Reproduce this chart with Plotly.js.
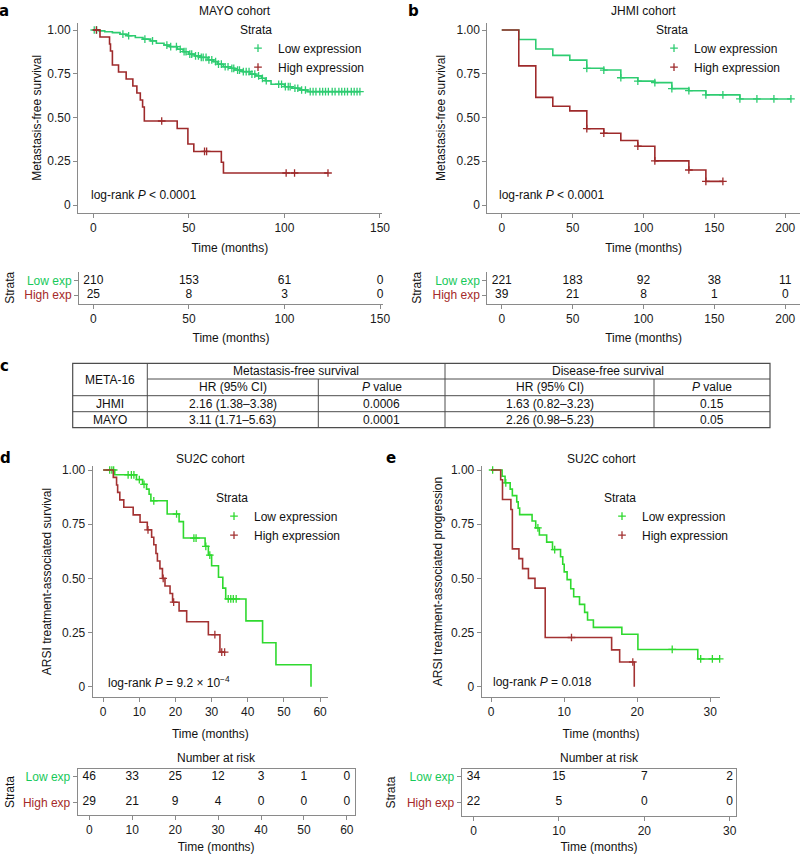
<!DOCTYPE html>
<html>
<head>
<meta charset="utf-8">
<script src="https://cdn.plot.ly/plotly-3.0.1.min.js"></script>
<style>html,body{margin:0;padding:0;background:#fff;}#chart{width:800px;height:854px;}</style>
</head>
<body>
<div id="chart"></div>
<script>
// ===================== DATA =====================
const survTickVals = [0, 0.25, 0.5, 0.75, 1];
const survTickText = ['0', '0.25', '0.50', '0.75', '1.00'];
const groupNames = ['Low expression', 'High expression'];
const riskRowNames = ['Low exp', 'High exp'];

// a: MAYO cohort (metastasis-free survival)
const mayoLowTimes = [0, 3, 6, 10, 14, 18, 22, 26, 30, 33, 37, 40, 44, 47, 50, 53, 56, 60, 63, 65, 68, 72, 74, 78, 82, 85, 88, 90, 93, 100, 104, 108, 112];
const mayoLowSurv  = [1, 0.995, 0.99, 0.985, 0.976, 0.967, 0.957, 0.948, 0.938, 0.924, 0.914, 0.905, 0.89, 0.876, 0.862, 0.852, 0.843, 0.829, 0.819, 0.805, 0.79, 0.781, 0.771, 0.762, 0.748, 0.738, 0.724, 0.71, 0.69, 0.676, 0.667, 0.657, 0.648];
const mayoLowCensor = [0.5, 1.8, 15.5, 18.5, 27, 31, 38.5, 40.5, 43.5, 45.5, 47.5, 48.5, 50.5, 51.5, 53.5, 55, 56.5, 57.5, 59, 60.5, 62, 64, 65.5, 67, 69, 70.5, 72.5, 73.5, 75.5, 76.5, 78.5, 80, 81.5, 83, 84.5, 86.5, 88.5, 90.5, 97, 98.5, 100.5, 102, 103, 105.5, 107, 109, 111, 113.5, 115, 116.5, 118.5, 120, 121.5, 123, 125, 126.5, 128.5, 130, 131.5, 133, 135, 136.5, 138, 139.5];
const mayoHighTimes = [0, 3.5, 8.5, 9, 10, 13.2, 17.2, 20.7, 22.8, 24.6, 25.8, 26.7, 43.9, 49.5, 52.6, 67, 68.1];
const mayoHighSurv  = [1, 0.96, 0.92, 0.88, 0.80, 0.76, 0.72, 0.68, 0.64, 0.60, 0.56, 0.48, 0.437, 0.349, 0.306, 0.244, 0.183];
const mayoHighCensor = [1.6, 35.8, 58.2, 59.3, 100.9, 105.3, 122.8];

// b: JHMI cohort (metastasis-free survival)
const jhmiLowTimes = [0, 12, 24, 36, 48, 60, 72, 84, 96, 108, 120, 132, 144, 168];
const jhmiLowSurv  = [1, 0.946, 0.891, 0.855, 0.828, 0.781, 0.771, 0.727, 0.708, 0.699, 0.665, 0.653, 0.629, 0.606];
const jhmiLowCensor = [60, 72, 84, 96, 108, 120, 132, 144, 156, 168, 180, 192, 204];
const jhmiHighTimes = [0, 12, 24, 36, 48, 60, 72, 84, 96, 108, 132, 144];
const jhmiHighSurv  = [1, 0.795, 0.615, 0.564, 0.538, 0.436, 0.41, 0.369, 0.336, 0.252, 0.2, 0.135];
const jhmiHighCensor = [60, 72, 96, 108, 132, 144, 156];

// d: SU2C cohort (ARSI treatment-associated survival)
const su2cSurvLowTimes = [0, 3.2, 9.2, 10.9, 12.0, 12.7, 13.2, 17.7, 21.0, 22.2, 28.2, 29.1, 30.0, 31.9, 33.1, 33.9, 39.5, 44.1, 47.8, 57.5];
const su2cSurvLowSurv  = [1, 0.978, 0.956, 0.934, 0.912, 0.888, 0.858, 0.797, 0.762, 0.686, 0.648, 0.607, 0.558, 0.505, 0.455, 0.405, 0.304, 0.203, 0.101, 0];
const su2cSurvLowCensor = [1.8, 2.4, 2.9, 6.9, 7.8, 8.5, 10.0, 11.3, 14.0, 20.3, 25.1, 25.7, 28.4, 29.5, 34.6, 35.3, 36.0, 36.8];
const su2cSurvHighTimes = [0, 2.8, 3.7, 4.0, 4.6, 5.7, 8.3, 10.2, 12.2, 13.4, 14.0, 14.6, 15.0, 15.7, 16.4, 17.1, 18.5, 19.2, 21.0, 23.1, 29.1, 32.3];
const su2cSurvHighSurv  = [1, 0.966, 0.931, 0.897, 0.862, 0.828, 0.793, 0.759, 0.724, 0.69, 0.655, 0.615, 0.58, 0.545, 0.5, 0.465, 0.43, 0.39, 0.35, 0.30, 0.24, 0.16];
const su2cSurvHighCensor = [12.4, 16.6, 19.5, 30.9, 32.8, 33.6];

// e: SU2C cohort (ARSI treatment-associated progression)
const su2cProgLowTimes = [0, 1.5, 1.9, 2.6, 2.9, 3.5, 3.7, 3.9, 5.6, 6.1, 6.6, 7.6, 8.4, 9.5, 9.8, 10.0, 10.4, 10.9, 11.3, 12.1, 12.8, 13.2, 14.0, 17.9, 20.1, 28.3];
const su2cProgLowSurv  = [1, 0.971, 0.941, 0.912, 0.882, 0.853, 0.824, 0.794, 0.765, 0.733, 0.7, 0.667, 0.633, 0.6, 0.565, 0.53, 0.494, 0.452, 0.415, 0.38, 0.343, 0.308, 0.274, 0.242, 0.172, 0.128];
const su2cProgLowCensor = [0.2, 2.0, 6.4, 8.7, 24.8, 28.7, 30.3, 31.3];
const su2cProgHighTimes = [0, 1.3, 1.55, 2.7, 2.9, 3.8, 4.3, 5.1, 6.0, 7.4, 16.5, 17.6, 19.6];
const su2cProgHighSurv  = [1, 0.955, 0.864, 0.818, 0.636, 0.591, 0.545, 0.5, 0.455, 0.227, 0.17, 0.114, 0];
const su2cProgHighCensor = [11.0, 19.4];

// Numbers at risk
const riskTimesA = [0, 50, 100, 150];
const riskLowA = [210, 153, 61, 0];
const riskHighA = [25, 8, 3, 0];
const riskTimesB = [0, 50, 100, 150, 200];
const riskLowB = [221, 183, 92, 38, 11];
const riskHighB = [39, 21, 8, 1, 0];
const riskTimesD = [0, 10, 20, 30, 40, 50, 60];
const riskLowD = [46, 33, 25, 12, 3, 1, 0];
const riskHighD = [29, 21, 9, 4, 0, 0, 0];
const riskTimesE = [0, 10, 20, 30];
const riskLowE = [34, 15, 7, 2];
const riskHighE = [22, 5, 0, 0];

// c: META-16 hazard ratio table
const tableCohorts = ['JHMI', 'MAYO'];
const mfsHR = ['2.16 (1.38–3.38)', '3.11 (1.71–5.63)'];
const mfsP = ['0.0006', '0.0001'];
const dfsHR = ['1.63 (0.82–3.23)', '2.26 (0.98–5.23)'];
const dfsP = ['0.15', '0.05'];

// ===================== STYLE / HELPERS =====================
const FONT = 'Liberation Sans, Arial, Helvetica, sans-serif';
const GREEN_AB = '#2ecc71', RED_AB = '#9e2a2b';
const GREEN_DE = '#2fd92f', RED_DE = '#a33232';
const LBL_GREEN = '#17c95a', LBL_RED = '#a52a2a';
const AXC = '#8a8a8a';
const W = 800, H = 854;
const px = v => v / W;
const py = v => 1 - v / H;

function survAt(times, surv, t) {
  let v = surv[0];
  for (let i = 0; i < times.length; i++) if (times[i] <= t) v = surv[i];
  return v;
}

function kmTraces(times, surv, censor, color, name, xa, ya, legend) {
  const end = Math.max(times[times.length - 1], ...censor);
  const line = {
    type: 'scatter', mode: 'lines', x: times.concat([end]), y: surv.concat([surv[surv.length - 1]]),
    line: {shape: 'hv', color: color, width: 1.6}, xaxis: xa, yaxis: ya, showlegend: false, hoverinfo: 'skip'
  };
  const marks = {
    type: 'scatter', mode: 'markers', x: censor, y: censor.map(t => survAt(times, surv, t)),
    marker: {symbol: 'cross-thin', size: 5.5, color: color, line: {color: color, width: 1.3}},
    xaxis: xa, yaxis: ya, name: name, legend: legend, cliponaxis: false, hoverinfo: 'x+y'
  };
  return [line, marks];
}

function riskTraces(times, low, high, xa, ya) {
  const mk = (vals, row) => ({
    type: 'scatter', mode: 'text', x: times, y: times.map(() => row), text: vals.map(String),
    textposition: 'middle center', textfont: {family: FONT, size: 12, color: '#111'},
    xaxis: xa, yaxis: ya, showlegend: false, cliponaxis: false, hoverinfo: 'skip'
  });
  return [mk(low, 2), mk(high, 1)];
}

function axBase(extra) {
  return Object.assign({
    showgrid: false, zeroline: false, showline: true, linecolor: AXC, linewidth: 1,
    ticks: 'outside', ticklen: 4, tickcolor: AXC, tickwidth: 1,
    tickfont: {family: FONT, size: 12, color: '#1a1a1a'}, fixedrange: true, automargin: false
  }, extra);
}
function axTitle(text, standoff) {
  return {text: text, font: {family: FONT, size: 12, color: '#111'}, standoff: standoff};
}
const riskTickText = [
  '<span style="color:' + LBL_RED + '">' + riskRowNames[1] + '</span>',
  '<span style="color:' + LBL_GREEN + '">' + riskRowNames[0] + '</span>'
];

function ann(text, x, y, o) {
  o = o || {};
  return {
    text: text, x: px(x), y: py(y), xref: 'paper', yref: 'paper', showarrow: false,
    xanchor: o.xanchor || 'center', yanchor: o.yanchor || 'middle',
    font: {family: o.family || FONT, size: o.size || 12, color: o.color || '#111', weight: o.weight || 'normal'}
  };
}
function legendCfg(x, y) {
  return {
    x: px(x), y: py(y), xanchor: 'left', yanchor: 'top', bgcolor: 'rgba(0,0,0,0)', borderwidth: 0,
    font: {family: FONT, size: 12, color: '#111'}, title: {text: 'Strata', font: {family: FONT, size: 12, color: '#111'}},
    tracegroupgap: 0, itemclick: false, itemdoubleclick: false
  };
}

// ===================== TRACES =====================
const data = [].concat(
  kmTraces(mayoLowTimes, mayoLowSurv, mayoLowCensor, GREEN_AB, groupNames[0], 'x', 'y', 'legend'),
  kmTraces(mayoHighTimes, mayoHighSurv, mayoHighCensor, RED_AB, groupNames[1], 'x', 'y', 'legend'),
  kmTraces(jhmiLowTimes, jhmiLowSurv, jhmiLowCensor, GREEN_AB, groupNames[0], 'x2', 'y2', 'legend2'),
  kmTraces(jhmiHighTimes, jhmiHighSurv, jhmiHighCensor, RED_AB, groupNames[1], 'x2', 'y2', 'legend2'),
  riskTraces(riskTimesA, riskLowA, riskHighA, 'x3', 'y3'),
  riskTraces(riskTimesB, riskLowB, riskHighB, 'x4', 'y4'),
  kmTraces(su2cSurvLowTimes, su2cSurvLowSurv, su2cSurvLowCensor, GREEN_DE, groupNames[0], 'x5', 'y5', 'legend3'),
  kmTraces(su2cSurvHighTimes, su2cSurvHighSurv, su2cSurvHighCensor, RED_DE, groupNames[1], 'x5', 'y5', 'legend3'),
  kmTraces(su2cProgLowTimes, su2cProgLowSurv, su2cProgLowCensor, GREEN_DE, groupNames[0], 'x6', 'y6', 'legend4'),
  kmTraces(su2cProgHighTimes, su2cProgHighSurv, su2cProgHighCensor, RED_DE, groupNames[1], 'x6', 'y6', 'legend4'),
  riskTraces(riskTimesD, riskLowD, riskHighD, 'x7', 'y7'),
  riskTraces(riskTimesE, riskLowE, riskHighE, 'x8', 'y8')
);

// ===================== LAYOUT =====================
const survY = (top, bot, yTop, title, so, anchor) => axBase({
  domain: [py(bot), py(top)], range: yTop, tickvals: survTickVals, ticktext: survTickText,
  title: axTitle(title, so), anchor: anchor
});

const layout = {
  width: W, height: H, autosize: false, margin: {l: 0, r: 0, t: 0, b: 0},
  paper_bgcolor: '#fff', plot_bgcolor: '#fff', font: {family: FONT, size: 12, color: '#111'},
  hovermode: false,
  // a main
  xaxis: axBase({domain: [px(78), px(381.7)], range: [-8, 150.9], tickvals: riskTimesA, anchor: 'y', title: axTitle('Time (months)', 9)}),
  yaxis: survY(22.7, 213, [-0.0457, 1.0417], 'Metastasis-free survival', 3, 'x'),
  // b main
  xaxis2: axBase({domain: [px(487.3), px(800)], range: [-10.2, 210.4], tickvals: riskTimesB, anchor: 'y2', title: axTitle('Time (months)', 9)}),
  yaxis2: survY(22.7, 213, [-0.0457, 1.0417], 'Metastasis-free survival', 8, 'x2'),
  // a risk
  xaxis3: axBase({domain: [px(79), px(383)], range: [-7.5, 151.5], tickvals: riskTimesA, anchor: 'y3', title: axTitle('Time (months)', 8)}),
  yaxis3: axBase({domain: [py(304), py(271.7)], range: [0.36, 2.66], tickvals: [1, 2], ticktext: riskTickText, anchor: 'x3', title: axTitle('Strata', 7)}),
  // b risk
  xaxis4: axBase({domain: [px(487.3), px(800)], range: [-10.2, 210.4], tickvals: riskTimesB, anchor: 'y4', title: axTitle('Time (months)', 8)}),
  yaxis4: axBase({domain: [py(304), py(271.7)], range: [0.36, 2.66], tickvals: [1, 2], ticktext: riskTickText, anchor: 'x4', title: axTitle('Strata', 8)}),
  // d main
  xaxis5: axBase({domain: [px(92.7), px(328)], range: [-2.9, 62.2], tickvals: riskTimesD, anchor: 'y5', title: axTitle('Time (months)', 11)}),
  yaxis5: survY(466, 697, [-0.0475, 1.0185], 'ARSI treatment-associated survival', 7, 'x5'),
  // e main
  xaxis6: axBase({domain: [px(481.7), px(720.4)], range: [-1.3, 31.4], tickvals: riskTimesE, anchor: 'y6', title: axTitle('Time (months)', 11)}),
  yaxis6: survY(466, 697, [-0.0475, 1.0185], 'ARSI treatment-associated progression', 5.5, 'x6'),
  // d risk
  xaxis7: axBase({domain: [px(77.7), px(354.6)], range: [-2.7, 61.8], tickvals: riskTimesD, anchor: 'y7', mirror: true, title: axTitle('Time (months)', 8)}),
  yaxis7: axBase({domain: [py(815), py(769)], range: [0.51, 2.31], tickvals: [1, 2], ticktext: riskTickText, anchor: 'x7', mirror: true, title: axTitle('Strata', 5)}),
  // e risk
  xaxis8: axBase({domain: [px(461.7), px(736.2)], range: [-1.38, 30.76], tickvals: riskTimesE, anchor: 'y8', mirror: true, title: axTitle('Time (months)', 8)}),
  yaxis8: axBase({domain: [py(816), py(769)], range: [0.47, 2.31], tickvals: [1, 2], ticktext: riskTickText, anchor: 'x8', mirror: true, title: axTitle('Strata', 8)}),
  legend: legendCfg(238, 18),
  legend2: legendCfg(654, 18),
  legend3: legendCfg(214, 486),
  legend4: legendCfg(602, 486),
  annotations: [],
  shapes: []
};

// panel letters
[['a', 4, 0], ['b', 414, 0], ['c', 4, 355], ['d', 5, 447], ['e', 391, 447]].forEach(l =>
  layout.annotations.push(ann(l[0], l[1], l[2], {size: 15, weight: 'bold', yanchor: 'top', family: 'DejaVu Sans, Liberation Sans, sans-serif', color: '#000'})));

// plot titles
layout.annotations.push(ann('MAYO cohort', 235, 11));
layout.annotations.push(ann('JHMI cohort', 643.3, 11));
layout.annotations.push(ann('SU2C cohort', 210.7, 459.3));
layout.annotations.push(ann('SU2C cohort', 601.7, 459.3));
// log-rank texts
layout.annotations.push(ann('log-rank <i>P</i> &lt; 0.0001', 89, 195, {xanchor: 'left'}));
layout.annotations.push(ann('log-rank <i>P</i> &lt; 0.0001', 497, 195, {xanchor: 'left'}));
layout.annotations.push(ann('log-rank <i>P</i> = 9.2 × 10<sup>−4</sup>', 105.5, 682, {xanchor: 'left'}));
layout.annotations.push(ann('log-rank <i>P</i> = 0.018', 490.5, 682, {xanchor: 'left'}));
// number at risk titles
layout.annotations.push(ann('Number at risk', 216, 758));
layout.annotations.push(ann('Number at risk', 599, 758));

// ---- table c ----
const tX = [72.7, 147.3, 318.3, 445, 654, 770];
const tY = [363.3, 379, 395.7, 411.7, 427.7];
const tLine = {color: '#4d4d4d', width: 1};
const hl = (x0, x1, y) => ({type: 'line', xref: 'paper', yref: 'paper', x0: px(x0), x1: px(x1), y0: py(y), y1: py(y), line: tLine});
const vl = (x, y0, y1) => ({type: 'line', xref: 'paper', yref: 'paper', x0: px(x), x1: px(x), y0: py(y0), y1: py(y1), line: tLine});
layout.shapes.push({type: 'rect', xref: 'paper', yref: 'paper', x0: px(tX[0]), x1: px(tX[5]), y0: py(tY[4]), y1: py(tY[0]), line: {color: '#4d4d4d', width: 1.2}});
layout.shapes.push(vl(tX[1], tY[0], tY[4]), vl(tX[3], tY[0], tY[4]), vl(tX[2], tY[1], tY[4]), vl(tX[4], tY[1], tY[4]));
layout.shapes.push(hl(tX[1], tX[5], tY[1]), hl(tX[0], tX[5], tY[2]), hl(tX[0], tX[5], tY[3]));
const cx = i => (tX[i] + tX[i + 1]) / 2;
const cy = i => (tY[i] + tY[i + 1]) / 2;
layout.annotations.push(ann('META-16', cx(0), (tY[0] + tY[2]) / 2));
layout.annotations.push(ann('Metastasis-free survival', (tX[1] + tX[3]) / 2, cy(0)));
layout.annotations.push(ann('Disease-free survival', (tX[3] + tX[5]) / 2, cy(0)));
layout.annotations.push(ann('HR (95% CI)', cx(1), cy(1)));
layout.annotations.push(ann('<i>P</i> value', cx(2), cy(1)));
layout.annotations.push(ann('HR (95% CI)', cx(3), cy(1)));
layout.annotations.push(ann('<i>P</i> value', cx(4), cy(1)));
tableCohorts.forEach((c, r) => {
  const yy = cy(2 + r);
  layout.annotations.push(ann(c, cx(0), yy));
  layout.annotations.push(ann(mfsHR[r], cx(1), yy));
  layout.annotations.push(ann(mfsP[r], cx(2), yy));
  layout.annotations.push(ann(dfsHR[r], cx(3), yy));
  layout.annotations.push(ann(dfsP[r], cx(4), yy));
});

Plotly.newPlot('chart', data, layout, {displayModeBar: false, staticPlot: true});
</script>
</body>
</html>
